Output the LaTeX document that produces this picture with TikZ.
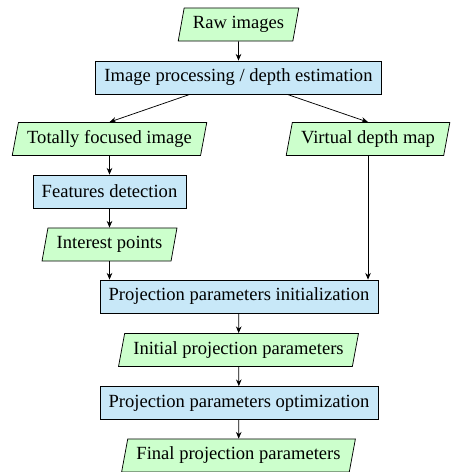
\documentclass[tikz,border=0pt]{standalone}
\usepackage{fontspec}
\newfontfamily\tnr{Liberation Serif}
\usetikzlibrary{shapes.geometric,arrows.meta,calc}
\definecolor{boxblue}{RGB}{200,232,248}
\definecolor{iogreen}{RGB}{204,255,204}
\begin{document}
\begin{tikzpicture}[x=0.5388pt,y=-0.5388pt,
  procbox/.style={rectangle,draw,fill=boxblue,minimum height=17.8pt,inner xsep=4.7pt,inner ysep=0pt},
  iobox/.style={trapezium,trapezium left angle=70,trapezium right angle=110,trapezium stretches=true,draw,fill=iogreen,minimum height=17.8pt,inner xsep=4.7pt,inner ysep=0pt},
  conn/.style={-{Stealth[length=3.6pt,width=3pt]},line width=0.4pt}]
\useasboundingbox (0,0) rectangle (451,472);
\node[iobox] (raw) at (238.5,24.5) {\tnr Raw images};
\node[procbox] (proc) at (238.5,77.5) {\tnr Image processing / depth estimation};
\node[iobox] (tfi) at (109.5,139) {\tnr Totally focused image};
\node[iobox] (vdm) at (368,139) {\tnr Virtual depth map};
\node[procbox] (feat) at (109.5,191.5) {\tnr Features detection};
\node[iobox] (ip) at (109.5,244.5) {\tnr Interest points};
\node[procbox] (pinit) at (239,296.5) {\tnr Projection parameters initialization};
\node[iobox] (initp) at (238.5,350) {\tnr Initial projection parameters};
\node[procbox] (popt) at (239,403) {\tnr Projection parameters optimization};
\node[iobox] (final) at (238.5,455.5) {\tnr Final projection parameters};
\draw[conn] (raw) -- (proc);
\draw[conn] ($(proc.south west)!0.33!(proc.south east)$) -- (tfi.north);
\draw[conn] ($(proc.south west)!0.67!(proc.south east)$) -- (vdm.north);
\draw[conn] (tfi) -- (feat);
\draw[conn] (feat) -- (ip);
\draw[conn] (ip.south) -- (ip.south |- pinit.north);
\draw[conn] (vdm.south) -- (vdm.south |- pinit.north);
\draw[conn] (pinit) -- (initp);
\draw[conn] (initp) -- (popt);
\draw[conn] (popt) -- (final);
\end{tikzpicture}
\end{document}
